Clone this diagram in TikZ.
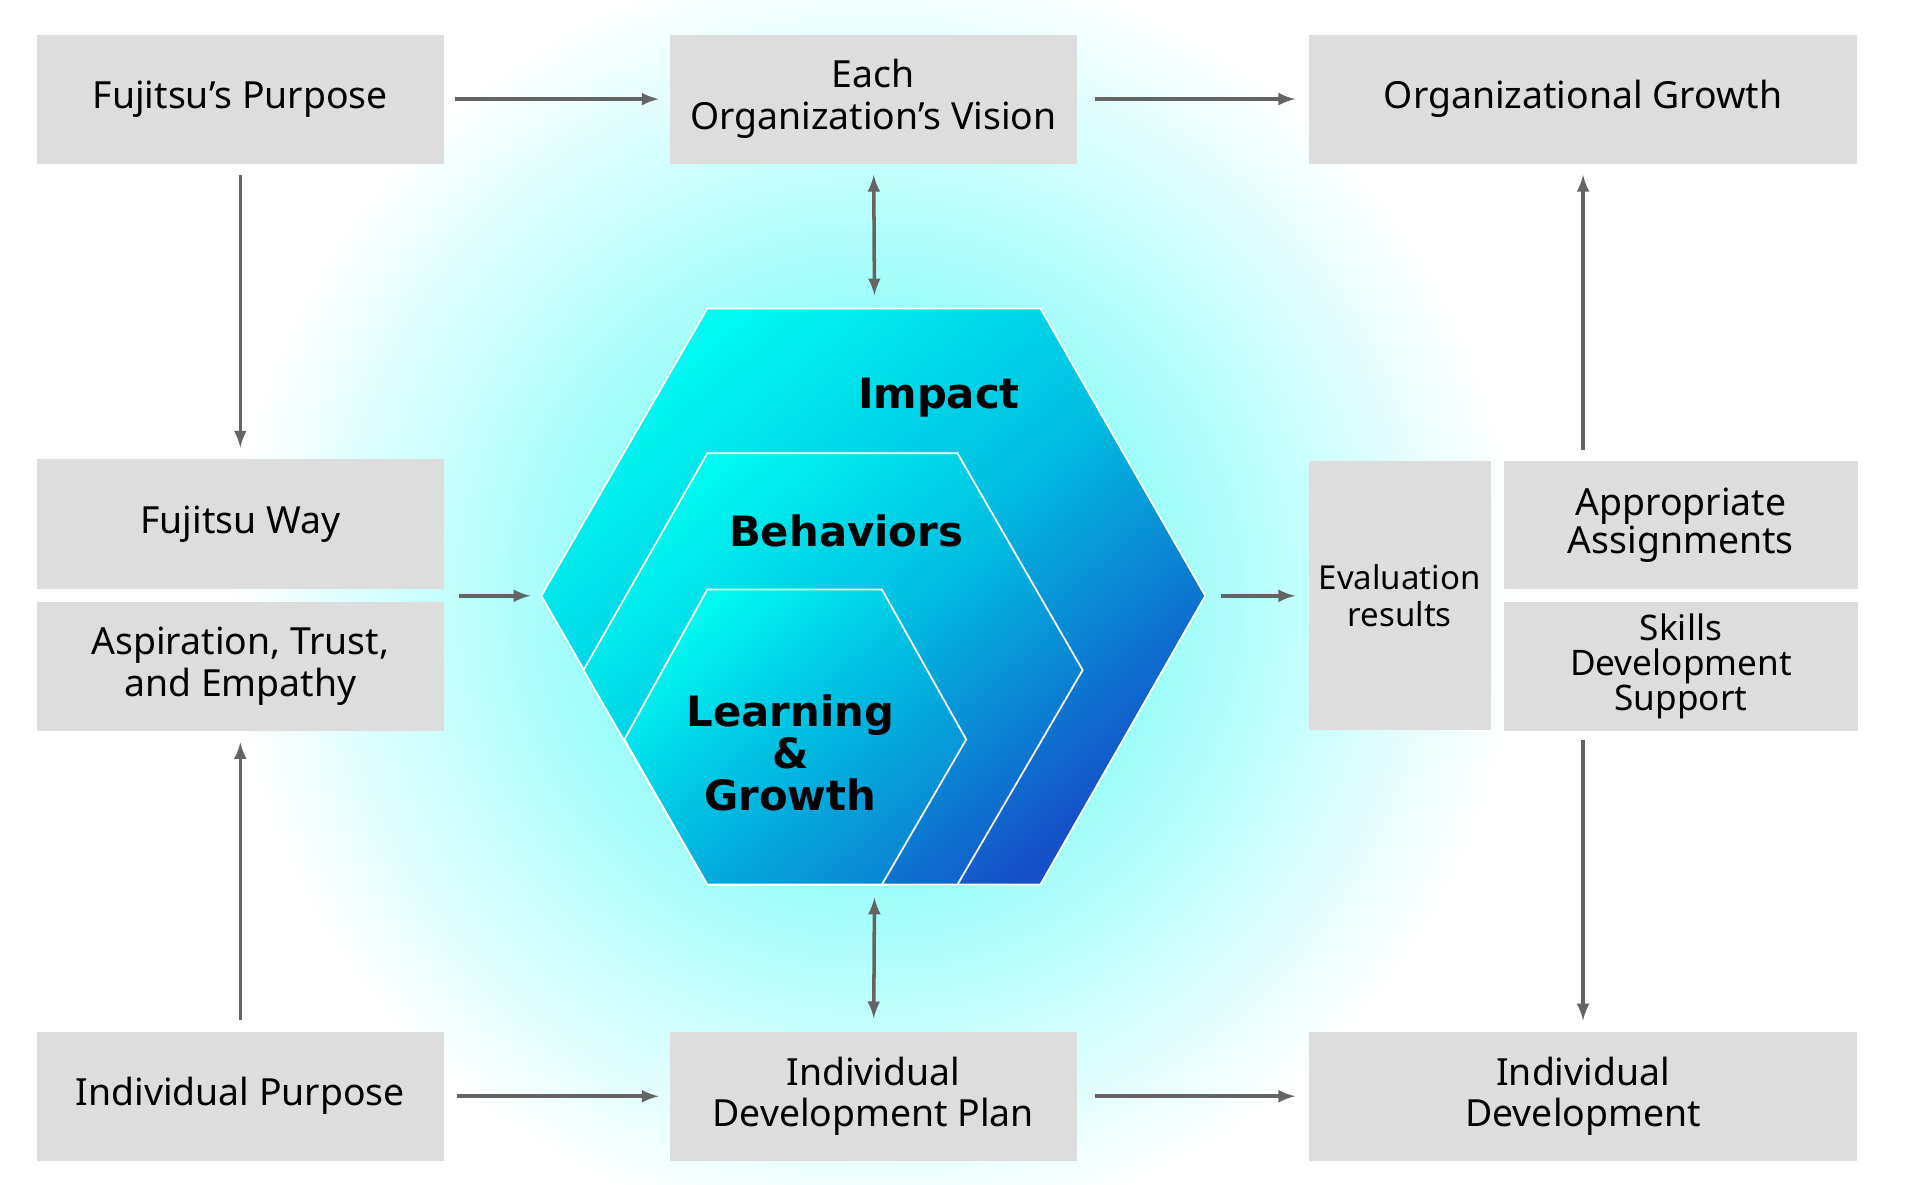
\documentclass[tikz,border=0pt]{standalone}
\usepackage{fontspec}
\setmainfont{Noto Sans}
\newfontfamily\hexfont{DejaVu Sans}
\usetikzlibrary{positioning}
\definecolor{boxgray}{RGB}{221,221,221}
\definecolor{arrgray}{RGB}{100,100,100}
\definecolor{hexcyan}{RGB}{0,250,242}
\definecolor{hexmid}{RGB}{0,190,225}
\definecolor{hexblue}{RGB}{20,80,200}
\tikzset{
  box/.style={fill=boxgray,draw=none,align=center,font=\fontsize{17}{19}\selectfont,inner sep=0pt},
  arr/.style={draw=arrgray,line width=1.6pt,-latex},
  darr/.style={draw=arrgray,line width=1.6pt,latex-latex},
  hexfill/.style={top color=hexcyan,bottom color=#1,middle color=hexmid,shading angle=40,draw=white,thick},
  hexlabel/.style={font=\hexfont\bfseries\fontsize{19}{19}\selectfont,align=center}
}
\begin{document}
\begin{tikzpicture}[x=0.0198cm,y=-0.0198cm]
		\useasboundingbox (0,0) rectangle (1550,956);
		% glow
		\shade[inner color=hexcyan!70,outer color=white] (706,481) circle (520);

		% boxes
		\node[box,minimum width=6.5cm,minimum height=2.06cm] (fpurpose) at (194,80) {Fujitsu’s Purpose};
		\node[box,minimum width=6.5cm,minimum height=2.06cm] (vision) at (705,80) {Each\\Organization’s Vision};
		\node[box,minimum width=8.77cm,minimum height=2.06cm] (orggrowth) at (1278,80) {Organizational Growth};
		\node[box,minimum width=6.5cm,minimum height=2.08cm] (fway) at (194,423) {Fujitsu Way};
		\node[box,minimum width=6.5cm,minimum height=2.06cm] (values) at (194,538) {Aspiration, Trust,\\and Empathy};
		\node[box,minimum width=2.91cm,minimum height=4.3cm,font=\fontsize{15}{17}\selectfont] (eval) at (1130,481) {Evaluation\\results};
		\node[box,minimum width=5.66cm,minimum height=2.04cm,font=\fontsize{17}{17}\selectfont] (assign) at (1357,424) {Appropriate\\Assignments};
		\node[box,minimum width=5.66cm,minimum height=2.06cm,font=\fontsize{16}{16}\selectfont] (skills) at (1357,538) {Skills\\Development\\Support};
		\node[box,minimum width=6.5cm,minimum height=2.06cm] (ipurpose) at (194,885) {Individual Purpose};
		\node[box,minimum width=6.5cm,minimum height=2.06cm] (idp) at (705,885) {Individual\\Development Plan};
		\node[box,minimum width=8.77cm,minimum height=2.06cm] (idev) at (1278,885) {Individual\\Development};

		% hexagons
		\shade[hexfill=hexblue]
			(571,249) -- (840,249) -- (973,481) -- (840,714) -- (571,714) -- (437,481) -- cycle;
		\shade[hexfill=hexblue!80!hexmid]
			(571,366) -- (773,366) -- (874,541) -- (773,714) -- (571,714) -- (471,541) -- cycle;
		\shade[hexfill=hexblue!50!hexmid]
			(571,476) -- (712,476) -- (780,597) -- (712,714) -- (571,714) -- (504,597) -- cycle;
		\node[hexlabel] (impact) at (758,321) {Impact};
		\node[hexlabel] (behav) at (683,429) {Behaviors};
		\node[hexlabel,font=\hexfont\bfseries\fontsize{19}{19}\selectfont] (learn) at (638,608) {Learning\\\&\\Growth};
		\coordinate (hextop) at (706,249);
		\coordinate (hexbot) at (706,714);
		\coordinate (hexleft) at (437,481);
		\coordinate (hexright) at (973,481);
		\coordinate (wayout) at (358,481);

		% connectors
		\draw[arr,shorten <=5pt,shorten >=5pt] (fpurpose) -- (vision);
		\draw[arr,shorten <=8pt,shorten >=6pt] (vision) -- (orggrowth);
		\draw[arr,shorten <=5pt,shorten >=5pt] (fpurpose) -- (fway);
		\draw[darr,shorten <=5pt,shorten >=6pt] (vision) -- (hextop);
		\draw[arr,shorten <=7pt,shorten >=5pt] (wayout) -- (hexleft);
		\draw[arr,shorten <=7pt,shorten >=6pt] (hexright) -- (eval);
		\draw[arr,shorten <=5pt,shorten >=5pt] (assign.north -| orggrowth) -- (orggrowth);
		\draw[arr,shorten <=5pt,shorten >=5pt] (ipurpose) -- (values);
		\draw[darr,shorten <=6pt,shorten >=6pt] (hexbot) -- (idp);
		\draw[arr,shorten <=4pt,shorten >=5pt] (skills.south -| idev) -- (idev);
		\draw[arr,shorten <=6pt,shorten >=5pt] (ipurpose) -- (idp);
		\draw[arr,shorten <=8pt,shorten >=6pt] (idp) -- (idev);
	\end{tikzpicture}
\end{document}
